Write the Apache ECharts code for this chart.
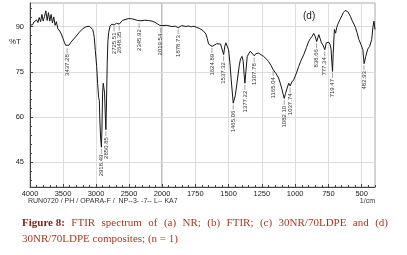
<!DOCTYPE html>
<html>
<head>
<meta charset="utf-8">
<script src="https://cdn.jsdelivr.net/npm/echarts@6/dist/echarts.min.js"></script>
<style>
html,body{margin:0;padding:0;background:#fff;}
#chart{width:407px;height:255px;}
</style>
</head>
<body>
<div id="chart"></div>
<script>
// ---- data (wavenumber in 1/cm, %T) ----
const wavenumbers = [
  4000,3980,3960,3940,3920,3900,3880,3860,3840,3820,3800,3780,3760,3740,3720,3700,3680,3660,3640,3620,3600,3580,3560,3540,3520,
  3500,3480,3460,3437,3410,3380,3353,3300,3253,3200,3152,3100,3075,3050,3035,3026,3010,2990,2975,2960,2950,2940,2930,2918,
  2910,2900,2890,2880,2870,2860,2850,2840,2830,2820,2808,2788,2760,2738,2725,2712,2690,2662,2648,2630,2600,2560,2511,2460,
  2409,2370,2345,2320,2260,2208,2150,2106,2070,2056,2035,2019,2000,
  1965,1927,1900,1878,1852,1820,1802,1780,1760,1740,1720,1705,1690,1680,1670,1660,1650,1640,1624,1610,1590,1576,1560,1550,
  1537,1528,1520,1510,1500,1490,1480,1465,1450,1437,1420,1410,1399,1390,1383,1377,1370,1360,1350,1337,1325,1307,1295,1274,
  1255,1237,1215,1199,1180,1165,1145,1124,1110,1098,1090,1082,1072,1060,1048,1037,1025,1011,990,973,955,935,915,898,885,872,
  860,850,838,830,822,812,802,790,777,766,747,737,730,724,719,714,705,696,688,680,663,650,638,625,616,605,596,585,570,558,
  546,535,521,505,491,482,470,455,440,425,415,408,404,400
];
const transmittance = [
  90.4,90.9,90.6,91.5,91.0,92.2,91.3,93.0,91.6,94.0,91.8,93.4,95.2,92.0,94.6,91.8,94.0,91.2,93.2,90.4,91.6,89.4,89.8,88.2,87.2,
  86.0,84.8,83.8,83.3,83.8,84.8,85.1,86.8,88.1,89.3,89.9,90.1,89.8,89.0,87.6,86.3,82.0,76.8,71.0,66.5,65.5,58.0,53.0,50.0,
  56.0,68.0,71.2,71.8,68.0,61.0,55.8,66.0,78.0,85.0,88.0,90.1,90.8,91.0,90.5,90.9,91.1,91.2,90.8,91.4,92.0,92.3,92.6,92.6,
  92.3,92.0,91.6,91.9,92.1,92.0,91.8,91.4,90.9,90.7,90.4,90.1,90.3,
  90.4,90.0,90.1,89.6,90.3,90.0,90.2,89.9,90.1,89.7,89.4,89.8,88.6,88.9,87.5,86.0,84.2,84.6,83.4,84.0,84.3,84.8,84.2,83.6,
  80.7,83.5,84.6,84.0,82.3,78.0,72.3,64.6,67.0,71.2,77.0,79.3,80.1,78.5,74.0,71.2,75.0,80.0,80.9,81.8,81.4,80.3,81.0,81.2,
  80.6,80.1,79.2,78.4,77.0,75.7,74.5,72.9,71.0,69.0,67.5,66.2,67.8,69.6,71.2,70.3,71.6,72.3,74.6,76.8,78.8,80.7,83.0,85.1,86.0,86.8,
  87.7,86.8,85.0,86.2,87.3,86.0,84.6,83.8,82.3,84.6,84.8,84.0,82.5,78.0,75.1,81.0,89.0,87.8,89.6,90.7,92.3,93.5,94.6,95.3,95.4,95.0,94.6,93.4,91.8,90.8,
  89.6,88.0,85.7,84.0,82.3,77.7,80.0,82.5,83.4,85.7,90.0,91.8,92.4,89.0
];
const peakWavenumbers = [3437.28,2918.49,2850.85,2725.51,2648.35,2345.92,2019.54,1878.73,1624.89,1537.32,1465.06,1377.22,1307.78,1165.04,1082.10,1037.74,838.66,777.34,719.47,482.93];
const peakLabels = ["3437.28","2918.49","2850.85","2725.51","2648.35","2345.92","2019.54","1878.73","1624.89","1537.32","1465.06","1377.22","1307.78","1165.04","1082.10","1037.74","838.66","777.34","719.47","482.93"];
const peakT = [83.3,50.0,55.8,90.5,90.8,91.6,90.1,89.6,83.4,80.7,64.6,71.2,80.3,75.7,66.2,70.3,85.0,82.3,75.1,77.7];

const xTicksHigh = [4000,3500,3000,2500,2000];
const xTicksLow = [2000,1750,1500,1250,1000,750,500];
const yTicks = [45,60,75,90];
const yMinorTicks = [39,42,45,48,51,54,57,60,63,66,69,72,75,78,81,84,87,90,93,96];

const captionLine1 = ["Figure 8:", "FTIR", "spectrum", "of", "(a)", "NR;", "(b)", "FTIR;", "(c)", "30NR/70LDPE", "and", "(d)"];
const captionLine2 = "30NR/70LDPE composites; (n = 1)";

// ---- build ----
const pts = wavenumbers.map((w, i) => [w, transmittance[i]]);
const highData = pts.filter(p => p[0] >= 2000);
const lowData = pts.filter(p => p[0] <= 2000);
const peaks = peakWavenumbers.map((w, i) => ({w: w, t: peakT[i], label: peakLabels[i]}));
const peaksHigh = peaks.filter(p => p.w >= 2000);
const peaksLow = peaks.filter(p => p.w < 2000);

const minorHigh = []; for (let v = 2000; v <= 4000; v += 100) minorHigh.push(v);
const minorLow = []; for (let v = 400; v <= 2000; v += 50) minorLow.push(v);

const FONT = 'Liberation Sans';
const AX = '#444';
const GRIDC = '#dedede';
const YMIN = 36.8, YMAX = 97.8;

function labelSeries(list, xi, yi) {
  return {
    type: 'custom', xAxisIndex: xi, yAxisIndex: yi, silent: true, z: 5,
    data: list.map(p => [p.w, p.t]),
    renderItem: function (params, api) {
      const p = api.coord([api.value(0), api.value(1)]);
      const item = list[params.dataIndex];
      return {
        type: 'group',
        children: [
          {type: 'line', shape: {x1: p[0], y1: p[1] + 1.5, x2: p[0], y2: p[1] + 6.5},
           style: {stroke: '#666', lineWidth: 0.6}},
          {type: 'text', x: p[0], y: p[1] + 7.5, rotation: Math.PI / 2,
           style: {text: item.label, fontSize: 6, fontFamily: FONT, fill: '#333',
                   align: 'right', verticalAlign: 'middle'}}
        ]
      };
    }
  };
}

function mainX(grid, min, max, ticks, showMax) {
  return {
    type: 'value', gridIndex: grid, inverse: true, min: min, max: max, position: 'bottom',
    axisLine: {show: true, lineStyle: {color: AX, width: 1}},
    axisTick: {show: true, inside: true, length: 3, customValues: ticks, lineStyle: {color: AX}},
    axisLabel: {show: true, customValues: showMax ? ticks : ticks.filter(v => v !== 2000),
                formatter: v => String(v),
                fontSize: 7.5, fontFamily: FONT, color: '#222', margin: 3},
    splitLine: {show: true, lineStyle: {color: GRIDC, width: 1}}
  };
}
function minorX(grid, min, max, ticks) {
  return {
    type: 'value', gridIndex: grid, inverse: true, min: min, max: max, position: 'bottom',
    axisLine: {show: false}, axisLabel: {show: false}, splitLine: {show: false},
    axisTick: {show: true, inside: true, length: 2, customValues: ticks, lineStyle: {color: AX}}
  };
}

// caption justification
const cv = document.createElement('canvas').getContext('2d');
const CAP_SIZE = 11, CAP_FONT = 'Liberation Serif';
const capLeft = 22, capRight = 388;
const widths = captionLine1.map((w, i) => {
  cv.font = (i === 0 ? 'bold ' : '') + CAP_SIZE + 'px "' + CAP_FONT + '"';
  return cv.measureText(w).width;
});
const sumW = widths.reduce((a, b) => a + b, 0);
const gap = (capRight - capLeft - sumW) / (captionLine1.length - 1);
const captionGraphics = [];
let cx = capLeft;
captionLine1.forEach((w, i) => {
  captionGraphics.push({
    type: 'text', x: cx, y: 223,
    style: {text: w, fontSize: CAP_SIZE, fontFamily: CAP_FONT, fontWeight: i === 0 ? 'bold' : 'normal',
            fill: i === 0 ? '#7d2417' : '#9c3b25', verticalAlign: 'middle', align: 'left'}
  });
  cx += widths[i] + gap;
});
captionGraphics.push({
  type: 'text', x: capLeft, y: 239,
  style: {text: captionLine2, fontSize: CAP_SIZE, fontFamily: CAP_FONT, fill: '#9c3b25',
          verticalAlign: 'middle', align: 'left'}
});

const chart = echarts.init(document.getElementById('chart'), null, {renderer: 'canvas'});
chart.setOption({
  animation: false,
  backgroundColor: '#fff',
  grid: [
    {left: 30, top: 3, width: 132, height: 184, show: true, borderColor: '#aaa', borderWidth: 1, backgroundColor: 'transparent'},
    {left: 162, top: 3, width: 213, height: 184, show: true, borderColor: '#aaa', borderWidth: 1, backgroundColor: 'transparent'}
  ],
  xAxis: [
    mainX(0, 2000, 4000, xTicksHigh, false),
    minorX(0, 2000, 4000, minorHigh),
    mainX(1, 400, 2000, xTicksLow, true),
    minorX(1, 400, 2000, minorLow)
  ],
  yAxis: [
    {type: 'value', gridIndex: 0, min: YMIN, max: YMAX, position: 'left',
     axisLine: {show: true, lineStyle: {color: AX}},
     axisTick: {show: true, inside: true, length: 3, customValues: yTicks, lineStyle: {color: AX}},
     axisLabel: {customValues: yTicks, fontSize: 7.5, fontFamily: FONT, color: '#222', margin: 6},
     splitLine: {show: true, lineStyle: {color: GRIDC}}},
    {type: 'value', gridIndex: 0, min: YMIN, max: YMAX, position: 'left',
     axisLine: {show: false}, axisLabel: {show: false}, splitLine: {show: false},
     axisTick: {show: true, inside: true, length: 2, customValues: yMinorTicks, lineStyle: {color: AX}}},
    {type: 'value', gridIndex: 1, min: YMIN, max: YMAX, position: 'left',
     axisLine: {show: false}, axisLabel: {show: false},
     axisTick: {show: false, customValues: yTicks},
     splitLine: {show: true, lineStyle: {color: GRIDC}}}
  ],
  series: [
    {type: 'line', xAxisIndex: 0, yAxisIndex: 0, data: highData, showSymbol: false, symbol: 'none',
     lineStyle: {color: '#151515', width: 1}, z: 3},
    {type: 'line', xAxisIndex: 2, yAxisIndex: 2, data: lowData, showSymbol: false, symbol: 'none',
     lineStyle: {color: '#151515', width: 1}, z: 3},
    labelSeries(peaksHigh, 0, 0),
    labelSeries(peaksLow, 2, 2)
  ],
  graphic: [
    {type: 'text', x: 9, y: 42, style: {text: '%T', fontSize: 8, fontFamily: FONT, fill: '#222', verticalAlign: 'middle'}},
    {type: 'text', x: 303, y: 16, style: {text: '(d)', fontSize: 10, fontFamily: FONT, fill: '#222', verticalAlign: 'middle'}},
    {type: 'text', x: 28, y: 201, style: {text: 'RUN0720 / PH / OPARA-F /  NP--3- -7-- L-- KA7', fontSize: 7, fontFamily: FONT, fill: '#333', verticalAlign: 'middle'}},
    {type: 'text', x: 375, y: 201, style: {text: '1/cm', fontSize: 7, fontFamily: FONT, fill: '#333', align: 'right', verticalAlign: 'middle'}}
  ].concat(captionGraphics)
});
</script>
</body>
</html>
